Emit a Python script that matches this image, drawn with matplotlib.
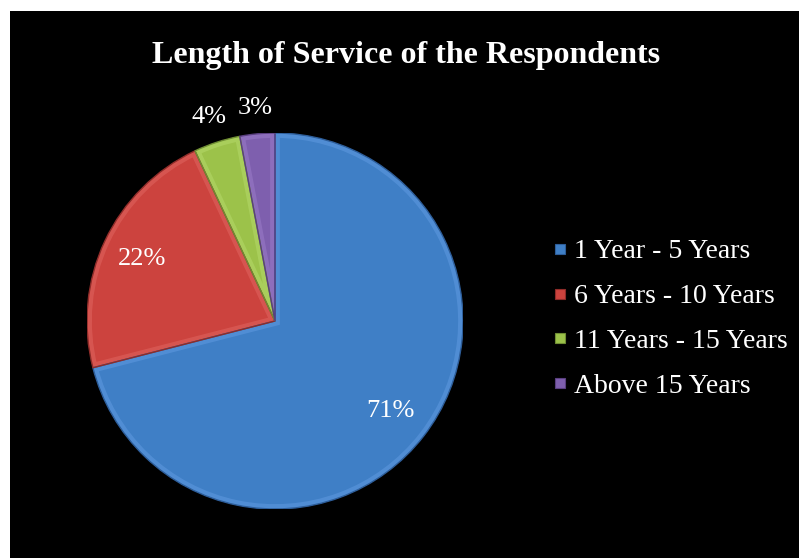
import matplotlib
matplotlib.use("Agg")
import matplotlib.pyplot as plt
from matplotlib.patches import Rectangle, Wedge
from matplotlib.lines import Line2D
import numpy as np

title = "Length of Service of the Respondents"
categories = ["1 Year - 5 Years", "6 Years - 10 Years", "11 Years - 15 Years", "Above 15 Years"]
shares = [71, 22, 4, 3]
colors = ["#3f7fc6", "#cc433e", "#9cc24a", "#7e5fae"]
rim_colors = ["#5f9ae0", "#e06560", "#b5d96a", "#9a7cc8"]
edge_colors = ["#2d5d99", "#8f2c29", "#6f8d33", "#5a3f80"]

plt.rcParams["font.family"] = ["Liberation Serif", "DejaVu Serif"]

fig = plt.figure(figsize=(7.99, 5.58), dpi=100, facecolor="white")
# black panel behind the chart
fig.patches.append(Rectangle((10 / 799, 0), 1, 1 - 11 / 558, transform=fig.transFigure,
                             facecolor="black", edgecolor="none", zorder=-10))

fig.text(406 / 799, 1 - 55 / 558, title, color="white", fontsize=23,
         fontweight="bold", ha="center", va="center")

ax = fig.add_axes([87 / 799, (558 - 509) / 558, 376 / 799, 376 / 558])
ax.set_facecolor("none")
wedges, _ = ax.pie(shares, colors=colors, startangle=90, counterclock=False,
                   wedgeprops=dict(linewidth=0))

# bevelled look: a light rim stroked inside each slice, then a thin dark outline
for w, rc, ec in zip(wedges, rim_colors, edge_colors):
    rim = Wedge(w.center, w.r, w.theta1, w.theta2, facecolor="none",
                edgecolor=rc, linewidth=7, alpha=0.55, zorder=w.get_zorder() + 0.1)
    ax.add_patch(rim)
    rim.set_clip_path(w)
    outline = Wedge(w.center, w.r, w.theta1, w.theta2, facecolor="none",
                    edgecolor=ec, linewidth=1.0, zorder=w.get_zorder() + 0.2)
    ax.add_patch(outline)

ax.set_xlim(-1, 1)
ax.set_ylim(-1, 1)
ax.set_aspect("equal")
ax.axis("off")

# percentage labels: inside for large slices, outside for small ones
for w, v in zip(wedges, shares):
    mid = np.deg2rad((w.theta1 + w.theta2) / 2)
    r = 0.78 if v >= 10 else 1.14
    ax.text(r * np.cos(mid), r * np.sin(mid), f"{v}%", color="white",
            fontsize=19, ha="center", va="center", zorder=5)

handles = [Line2D([], [], marker="s", linestyle="none", markersize=7.5,
                  markerfacecolor=c, markeredgecolor=ec, markeredgewidth=0.8)
           for c, ec in zip(colors, edge_colors)]
leg = fig.legend(handles, categories, loc="upper left",
                 bbox_to_anchor=(539 / 799, 1 - 225 / 558), frameon=False,
                 fontsize=20, labelcolor="white", handlelength=0.5,
                 handletextpad=0.25, labelspacing=0.70, borderpad=0)

fig.savefig("out.png", dpi=100, facecolor="white")
